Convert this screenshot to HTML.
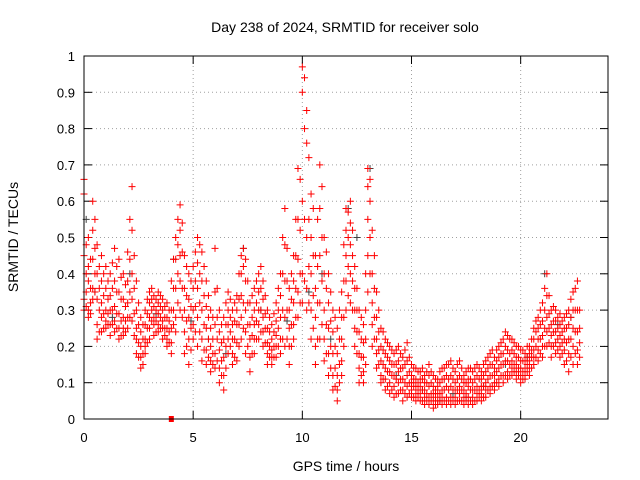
<!DOCTYPE html>
<html><head><meta charset="utf-8"><style>
body{margin:0;background:#fff}
svg{display:block;font-family:"Liberation Sans",sans-serif}
</style></head><body>
<svg id="chart" width="640" height="480">
<text x="345" y="32" text-anchor="middle" font-size="14">Day 238 of 2024, SRMTID for receiver solo</text>
<text x="346" y="471" text-anchor="middle" font-size="14">GPS time / hours</text>
<text transform="translate(18,237) rotate(-90)" text-anchor="middle" font-size="14">SRMTID / TECUs</text>
<g id="grid"></g><g id="ticks"></g><g id="marks"></g>
<rect x="84" y="56" width="524" height="363" fill="none" stroke="#000"/>
</svg>
<script>
const xTicks=[0,5,10,15,20];
const yTicks=[0,0.1,0.2,0.3,0.4,0.5,0.6,0.7,0.8,0.9,1];
const yTickLabels=["0","0.1","0.2","0.3","0.4","0.5","0.6","0.7","0.8","0.9","1"];
const times=[0,0.2,0.4,0.6,0.8,1,1.2,1.4,1.6,1.8,2,2.2,2.4,2.6,2.8,3,3.2,3.4,3.6,3.8,4,4.2,4.4,4.6,4.8,5,5.2,5.4,5.6,5.8,6,6.2,6.4,6.6,6.8,7,7.2,7.4,7.6,7.8,8,8.2,8.4,8.6,8.8,9,9.2,9.4,9.6,9.8,10,10.2,10.4,10.6,10.8,11,11.2,11.4,11.6,11.8,12,12.2,12.4,12.6,12.8,13,13.2,13.4,13.6,13.8,14,14.2,14.4,14.6,14.8,15,15.2,15.4,15.6,15.8,16,16.2,16.4,16.6,16.8,17,17.2,17.4,17.6,17.8,18,18.2,18.4,18.6,18.8,19,19.2,19.4,19.6,19.8,20,20.2,20.4,20.6,20.8,21,21.2,21.4,21.6,21.8,22,22.2,22.4,22.6];
const redValues=[
[.66,.62,.45,.33,.30],[.50,.42,.38,.30,.28],[.60,.52,.44,.36,.33],[.48,.40,.33,.26,.22],[.45,.38,.32,.28,.24],
[.42,.36,.30,.27,.25],[.40,.34,.30,.26,.23],[.47,.38,.31,.27,.24],[.44,.35,.29,.25,.22],[.40,.33,.28,.25,.23],
[.46,.38,.32,.28,.25],[.64,.52,.40,.33,.27],[.38,.30,.25,.22,.18],[.28,.24,.20,.17,.14],[.30,.26,.22,.20,.18],
[.35,.32,.28,.25,.22],[.34,.31,.28,.26,.23],[.35,.32,.29,.26,.24],[.33,.30,.27,.25,.22],[.32,.28,.25,.22,.20],
[.38,.30,.25,.21,.18],[.50,.44,.36,.28,.24],[.59,.52,.45,.38,.30],[.45,.36,.30,.24,.18],[.40,.33,.28,.22,.15],
[.42,.36,.30,.26,.22],[.50,.43,.36,.28,.20],[.46,.38,.30,.22,.16],[.38,.31,.25,.19,.15],[.30,.25,.20,.16,.13],
[.47,.35,.26,.18,.14],[.30,.24,.19,.14,.10],[.28,.22,.17,.12,.08],[.35,.30,.26,.22,.18],[.30,.26,.22,.18,.15],
[.34,.30,.26,.21,.16],[.45,.40,.34,.28,.22],[.44,.38,.30,.24,.18],[.32,.26,.22,.17,.13],[.36,.30,.26,.22,.18],
[.40,.35,.30,.26,.22],[.38,.33,.28,.24,.20],[.30,.25,.21,.18,.15],[.26,.22,.19,.17,.15],[.32,.27,.23,.20,.17],
[.40,.34,.28,.22,.18],[.58,.48,.38,.28,.20],[.36,.30,.25,.20,.15],[.45,.38,.32,.26,.22],[.69,.55,.44,.35,.28],
[.97,.90,.60,.40,.32],[.85,.76,.50,.36,.30],[.62,.50,.40,.30,.22],[.45,.36,.28,.20,.15],[.70,.58,.45,.32,.22],
[.50,.40,.30,.22,.16],[.40,.32,.25,.18,.12],[.30,.24,.18,.12,.08],[.25,.18,.12,.08,.05],[.35,.28,.22,.16,.12],
[.58,.52,.45,.38,.30],[.60,.54,.48,.40,.32],[.42,.36,.30,.25,.20],[.30,.24,.18,.14,.10],[.26,.21,.17,.13,.10],
[.69,.64,.55,.45,.35],[.52,.40,.32,.26,.20],[.35,.28,.22,.18,.14],[.25,.20,.16,.12,.10],[.22,.18,.14,.11,.08],
[.20,.16,.13,.10,.07],[.18,.15,.12,.09,.06],[.20,.16,.13,.10,.07],[.17,.14,.11,.08,.05],[.21,.16,.12,.09,.06],
[.15,.12,.10,.08,.06],[.14,.11,.09,.07,.05],[.13,.11,.09,.07,.05],[.12,.10,.08,.06,.04],[.15,.12,.09,.06,.04],
[.12,.09,.07,.05,.03],[.11,.09,.07,.05,.04],[.14,.11,.08,.06,.04],[.15,.12,.09,.06,.04],[.16,.12,.09,.06,.04],
[.13,.10,.08,.06,.04],[.16,.12,.09,.07,.05],[.12,.10,.08,.06,.04],[.14,.11,.09,.06,.04],[.13,.10,.08,.06,.04],
[.15,.12,.09,.07,.05],[.13,.11,.09,.07,.05],[.16,.13,.10,.08,.06],[.18,.15,.12,.09,.07],[.17,.14,.12,.10,.08],
[.20,.17,.14,.11,.09],[.22,.18,.15,.12,.10],[.23,.19,.16,.13,.11],[.22,.19,.16,.14,.12],[.20,.17,.15,.13,.11],
[.19,.16,.14,.12,.10],[.18,.16,.14,.12,.11],[.20,.18,.16,.14,.12],[.25,.22,.19,.17,.15],[.28,.25,.22,.19,.16],
[.32,.27,.23,.20,.17],[.40,.34,.28,.24,.20],[.30,.26,.23,.20,.17],[.30,.27,.24,.21,.18],[.29,.26,.23,.20,.17],
[.28,.25,.22,.19,.15],[.30,.26,.22,.18,.13],[.35,.30,.25,.20,.15],[.38,.30,.24,.19,.15]];
const times2=[0.1,0.3,0.5,0.7,0.9,1.1,1.3,1.5,1.7,1.9,2.1,2.3,2.5,2.7,2.9,3.1,3.3,3.5,3.7,3.9,4.1,4.3,4.5,4.7,4.9,5.1,5.3,5.5,5.7,5.9,6.1,6.3,6.5,6.7,6.9,7.1,7.3,7.5,7.7,7.9,8.1,8.3,8.5,8.7,8.9,9.1,9.3,9.5,9.7,9.9,10.1,10.3,10.5,10.7,10.9,11.1,11.3,11.5,11.7,11.9,12.1,12.3,12.5,12.7,12.9,13.1,13.3,13.5,13.7,13.9,14.1,14.3,14.5,14.7,14.9,15.1,15.3,15.5,15.7,15.9,16.1,16.3,16.5,16.7,16.9,17.1,17.3,17.5,17.7,17.9,18.1,18.3,18.5,18.7,18.9,19.1,19.3,19.5,19.7,19.9,20.1,20.3,20.5,20.7,20.9,21.1,21.3,21.5,21.7,21.9,22.1,22.3,22.5,22.7];
const redValues2=[
[.48,.40,.35,.31],[.44,.36,.32,.29],[.55,.47,.40,.35],[.42,.36,.30,.24],[.40,.34,.29,.25],
[.38,.33,.29,.26],[.43,.36,.30,.26],[.42,.35,.29,.25],[.39,.33,.27,.23],[.37,.31,.27,.24],
[.55,.44,.35,.28],[.45,.36,.29,.23],[.32,.26,.21,.17],[.26,.22,.18,.15],[.33,.29,.25,.21],
[.36,.33,.30,.27],[.33,.30,.27,.24],[.34,.31,.28,.25],[.31,.28,.25,.23],[.30,.27,.24,.21],
[.44,.36,.30,.26],[.55,.48,.40,.32],[.54,.46,.36,.28],[.42,.34,.27,.20],[.38,.31,.25,.19],
[.46,.38,.31,.24],[.48,.40,.32,.24],[.42,.34,.26,.19],[.34,.28,.22,.17],[.28,.22,.18,.15],
[.36,.28,.22,.16],[.26,.21,.16,.12],[.32,.26,.20,.14],[.33,.28,.24,.20],[.32,.27,.22,.17],
[.40,.33,.26,.20],[.47,.42,.32,.25],[.38,.32,.26,.20],[.34,.28,.23,.18],[.38,.32,.27,.22],
[.42,.36,.30,.24],[.34,.29,.25,.21],[.28,.24,.20,.17],[.29,.24,.20,.17],[.36,.30,.25,.20],
[.50,.40,.30,.22],[.47,.38,.30,.22],[.40,.33,.26,.20],[.55,.45,.36,.28],[.66,.52,.40,.32],
[.94,.80,.55,.38],[.72,.55,.42,.32],[.58,.45,.34,.25],[.55,.42,.32,.22],[.64,.50,.38,.26],
[.46,.36,.26,.18],[.35,.27,.20,.14],[.28,.20,.14,.09],[.30,.22,.15,.10],[.48,.38,.28,.20],
[.57,.50,.42,.34],[.52,.45,.38,.30],[.36,.30,.24,.18],[.28,.22,.17,.12],[.40,.30,.22,.15],
[.66,.60,.50,.40],[.45,.36,.28,.22],[.30,.24,.19,.15],[.24,.19,.15,.11],[.21,.17,.13,.09],
[.19,.15,.12,.08],[.19,.15,.11,.07],[.18,.14,.11,.08],[.19,.15,.10,.07],[.17,.13,.10,.07],
[.14,.11,.09,.06],[.13,.10,.08,.06],[.14,.11,.08,.05],[.13,.10,.07,.05],[.13,.10,.07,.05],
[.11,.08,.06,.04],[.13,.10,.07,.05],[.14,.11,.08,.05],[.15,.11,.08,.05],[.14,.11,.08,.05],
[.15,.11,.08,.05],[.14,.11,.08,.05],[.13,.10,.07,.05],[.14,.11,.08,.05],[.14,.11,.08,.05],
[.14,.11,.08,.06],[.15,.12,.09,.06],[.17,.14,.11,.08],[.19,.15,.12,.09],[.19,.16,.13,.10],
[.21,.18,.15,.12],[.24,.20,.16,.12],[.22,.18,.15,.12],[.21,.18,.15,.13],[.20,.17,.14,.12],
[.19,.16,.13,.11],[.20,.17,.15,.13],[.22,.19,.17,.14],[.27,.24,.20,.17],[.30,.26,.22,.18],
[.36,.30,.25,.20],[.34,.29,.25,.21],[.31,.27,.24,.20],[.28,.25,.22,.19],[.27,.24,.21,.18],
[.29,.25,.21,.16],[.33,.28,.22,.17],[.36,.30,.24,.18],[.30,.25,.21,.17]];
const grayTimes=[0.1,0.5,1.3,2.1,3.3,4.1,4.9,5.7,6.5,7.3,8.1,9.3,10.3,10.9,11.3,12.1,12.5,13.1,14.3,15.5,16.3,16.9,17.5,18.3,19.3,20.3,21.1,21.7,22.3];
const grayValues=[.55,.35,.28,.40,.29,.44,.27,.22,.18,.47,.30,.27,.35,.40,.22,.58,.50,.69,.12,.08,.05,.07,.06,.09,.15,.17,.40,.26,.28];
const squareTimes=[4.0];
const squareValues=[0];
const NS="http://www.w3.org/2000/svg";
const X0=84,X1=608,Y0=419,Y1=56;
const xs=t=>X0+(X1-X0)*t/24;
const ys=v=>Y0-(Y0-Y1)*v/1;
function mk(tag,attrs,parent){const e=document.createElementNS(NS,tag);for(const k in attrs)e.setAttribute(k,attrs[k]);parent.appendChild(e);return e;}
const grid=document.getElementById('grid'),ticks=document.getElementById('ticks'),marks=document.getElementById('marks');
yTicks.forEach((v,i)=>{
  const y=ys(v);
  if(v>0&&v<1){const g=mk('line',{x1:X0,x2:X1,y1:y,y2:y,stroke:'#a0a0a0','stroke-dasharray':'1,3'},grid);
  
  }
  mk('line',{x1:X0,x2:X0+8,y1:y,y2:y,stroke:'#000'},ticks);
  mk('line',{x1:X1-8,x2:X1,y1:y,y2:y,stroke:'#000'},ticks);
  const t=mk('text',{x:X0-9,y:y+5,'text-anchor':'end','font-size':13},ticks);
  t.textContent=yTickLabels[i];
  
  
});
xTicks.forEach(v=>{
  const x=xs(v);
  if(v>0){const g=mk('line',{x1:x,x2:x,y1:Y0,y2:Y1,stroke:'#a0a0a0','stroke-dasharray':'1,3'},grid);
  
  }
  mk('line',{x1:x,x2:x,y1:Y0,y2:Y0-8,stroke:'#000'},ticks);
  mk('line',{x1:x,x2:x,y1:Y1,y2:Y1+8,stroke:'#000'},ticks);
  const t=mk('text',{x:x,y:Y0+23,'text-anchor':'middle','font-size':13},ticks);
  t.textContent=String(v);
  
  
});
function plus(x,y,c){const p=mk('path',{d:`M${x-3.5},${y}h7M${x},${y-3.5}v7`,stroke:c,'stroke-width':1,fill:'none'},marks);return p;}
grayTimes.forEach((t,i)=>{
  const p=plus(xs(t),ys(grayValues[i]),'#404040');
  
  
});
times.forEach((t,i)=>{
  redValues[i].forEach(v=>{
    const p=plus(xs(t),ys(v),'#ff0000');
    
    
  });
});
times2.forEach((t,i)=>{
  redValues2[i].forEach(v=>{
    const p=plus(xs(t),ys(v),'#ff0000');
    
    
  });
});
squareTimes.forEach((t,i)=>{
  const r=mk('rect',{x:xs(t)-2.5,y:ys(squareValues[i])-3,width:5,height:6,fill:'#ff0000'},marks);
  
  
});
</script>
</body></html>
